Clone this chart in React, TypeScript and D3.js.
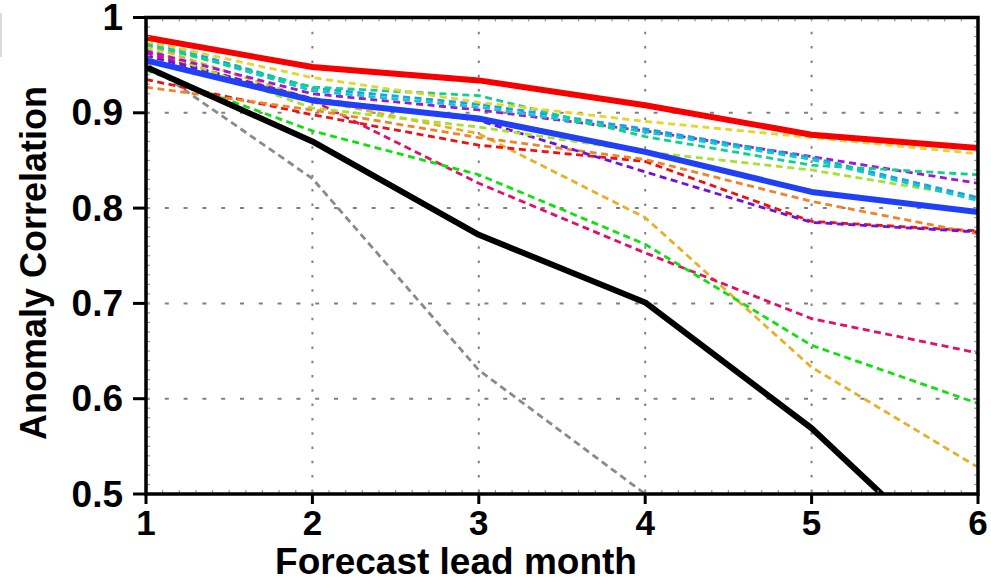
import React, { useRef, useEffect } from 'react';
import * as d3 from 'd3';

const MONTHS = [1, 2, 3, 4, 5, 6];
const Y_TICKS = [0.5, 0.6, 0.7, 0.8, 0.9, 1];

// dashed members
const GRAY = [0.952, 0.831, 0.63, 0.5, 0.38, 0.3];
const GOLDENROD = [0.971, 0.914, 0.878, 0.79, 0.633, 0.528];
const YELLOW = [0.975, 0.937, 0.911, 0.891, 0.874, 0.857];
const MINT = [0.972, 0.927, 0.918, 0.875, 0.845, 0.835];
const CYAN = [0.975, 0.923, 0.906, 0.88, 0.851, 0.808];
const SKY = [0.977, 0.926, 0.909, 0.883, 0.853, 0.811];
const PURPLE = [0.965, 0.92, 0.903, 0.881, 0.854, 0.826];
const VIOLET = [0.96, 0.915, 0.892, 0.838, 0.785, 0.775];
const YELLOWGREEN = [0.968, 0.905, 0.885, 0.859, 0.84, 0.811];
const ORANGE = [0.927, 0.903, 0.874, 0.851, 0.807, 0.773];
const RED_DASH = [0.935, 0.898, 0.866, 0.849, 0.786, 0.776];
const GREEN = [0.945, 0.881, 0.835, 0.762, 0.656, 0.595];
const CRIMSON = [0.963, 0.913, 0.826, 0.753, 0.684, 0.648];

// thick solid lines
const BLACK = [0.948, 0.87, 0.772, 0.701, 0.569, 0.405];
const BLUE = [0.955, 0.913, 0.894, 0.859, 0.817, 0.796];
const RED = [0.979, 0.948, 0.934, 0.908, 0.877, 0.863];

const DASHED = [
  { values: GRAY, color: '#8a8a8a' },
  { values: GOLDENROD, color: '#e8b028' },
  { values: CRIMSON, color: '#e0106a' },
  { values: GREEN, color: '#10e010' },
  { values: RED_DASH, color: '#f01010' },
  { values: ORANGE, color: '#f08428' },
  { values: VIOLET, color: '#7010e0' },
  { values: YELLOWGREEN, color: '#a8e030' },
  { values: PURPLE, color: '#a018d0' },
  { values: SKY, color: '#18a0e8' },
  { values: CYAN, color: '#10c8d0' },
  { values: MINT, color: '#10d090' },
  { values: YELLOW, color: '#e8d428' },
];

const SOLID = [
  { values: BLACK, color: '#000000' },
  { values: BLUE, color: '#2040f8' },
  { values: RED, color: '#f80000' },
];

const W = 991;
const H = 579;

export default function App() {
  const svgRef = useRef<SVGSVGElement>(null);

  useEffect(() => {
    if (!svgRef.current) return;
    const svg = d3.select(svgRef.current);
    svg.selectAll('*').remove();

    const x = d3.scaleLinear().domain([1, 6]).range([146, 978]);
    const y = d3.scaleLinear().domain([0.5, 1]).range([494, 17.5]);
    const [x0, x1] = x.range();
    const [y0, y1] = y.range();

    svg.append('rect').attr('width', W).attr('height', H).attr('fill', '#fff');

    // cut-off legend box at far left
    svg.append('line')
      .attr('x1', 1).attr('x2', 1).attr('y1', 13).attr('y2', 57)
      .attr('stroke', '#cfcfcf').attr('stroke-width', 1.5);

    svg.append('defs').append('clipPath').attr('id', 'plot')
      .append('rect')
      .attr('x', x0).attr('y', y1)
      .attr('width', x1 - x0).attr('height', y0 - y1);

    // grid
    const grid = svg.append('g');
    MONTHS.slice(1, -1).forEach((m) => {
      grid.append('line')
        .attr('x1', x(m)).attr('x2', x(m)).attr('y1', y1).attr('y2', y0)
        .attr('stroke', '#808080').attr('stroke-width', 2)
        .attr('stroke-dasharray', '2.5,11.8');
    });
    Y_TICKS.slice(1, -1).forEach((v) => {
      grid.append('line')
        .attr('x1', x0).attr('x2', x1).attr('y1', y(v)).attr('y2', y(v))
        .attr('stroke', '#808080').attr('stroke-width', 2)
        .attr('stroke-dasharray', '4,14.8');
    });

    const line = d3.line<number>()
      .x((_, i) => x(MONTHS[i]))
      .y((d) => y(d));

    const series = svg.append('g').attr('clip-path', 'url(#plot)');
    DASHED.forEach((s) => {
      series.append('path')
        .attr('d', line(s.values))
        .attr('fill', 'none')
        .attr('stroke', s.color)
        .attr('stroke-width', 2.8)
        .attr('stroke-dasharray', '7,4.5');
    });
    SOLID.forEach((s) => {
      series.append('path')
        .attr('d', line(s.values))
        .attr('fill', 'none')
        .attr('stroke', s.color)
        .attr('stroke-width', 6)
        .attr('stroke-linejoin', 'round');
    });

    // minor ticks
    const minor = svg.append('g').attr('stroke', '#9a9a9a').attr('stroke-width', 1.2);
    d3.range(0.51, 1, 0.01).forEach((v) => {
      minor.append('line').attr('x1', x0 + 1).attr('x2', x0 + 4).attr('y1', y(v)).attr('y2', y(v));
      minor.append('line').attr('x1', x1 - 4).attr('x2', x1 - 1).attr('y1', y(v)).attr('y2', y(v));
    });
    d3.range(1.1, 6, 0.1).forEach((m) => {
      minor.append('line').attr('x1', x(m)).attr('x2', x(m)).attr('y1', y0 - 4).attr('y2', y0 - 1);
      minor.append('line').attr('x1', x(m)).attr('x2', x(m)).attr('y1', y1 + 1).attr('y2', y1 + 4);
    });

    // frame
    svg.append('rect')
      .attr('x', x0).attr('y', y1)
      .attr('width', x1 - x0).attr('height', y0 - y1)
      .attr('fill', 'none').attr('stroke', '#000').attr('stroke-width', 3.5);

    const font = '"Liberation Sans", Arial, sans-serif';

    // y axis
    Y_TICKS.forEach((v) => {
      svg.append('line')
        .attr('x1', x0 - 13).attr('x2', x0).attr('y1', y(v)).attr('y2', y(v))
        .attr('stroke', '#000').attr('stroke-width', 3);
      svg.append('text')
        .attr('x', x0 - 23).attr('y', y(v) + 12.5)
        .attr('text-anchor', 'end')
        .attr('font-family', font).attr('font-weight', 'bold').attr('font-size', 37)
        .attr('fill', '#000')
        .text(d3.format('')(v));
    });

    // x axis
    MONTHS.forEach((m) => {
      svg.append('line')
        .attr('x1', x(m)).attr('x2', x(m)).attr('y1', y0).attr('y2', y0 + 10)
        .attr('stroke', '#000').attr('stroke-width', 3);
      svg.append('text')
        .attr('x', x(m)).attr('y', 535)
        .attr('text-anchor', 'middle')
        .attr('font-family', font).attr('font-weight', 'bold').attr('font-size', 35)
        .attr('fill', '#000')
        .text(m);
    });

    svg.append('text')
      .attr('x', 456).attr('y', 574)
      .attr('text-anchor', 'middle')
      .attr('font-family', font).attr('font-weight', 'bold').attr('font-size', 37)
      .attr('fill', '#000')
      .text('Forecast lead month');

    svg.append('text')
      .attr('transform', 'translate(46, 263) rotate(-90)')
      .attr('text-anchor', 'middle')
      .attr('font-family', font).attr('font-weight', 'bold').attr('font-size', 36)
      .attr('fill', '#000')
      .text('Anomaly Correlation');
  }, []);

  return (
    <svg
      ref={svgRef}
      width={W}
      height={H}
      viewBox={`0 0 ${W} ${H}`}
      style={{ position: 'fixed', left: 0, top: 0, display: 'block' }}
    />
  );
}
